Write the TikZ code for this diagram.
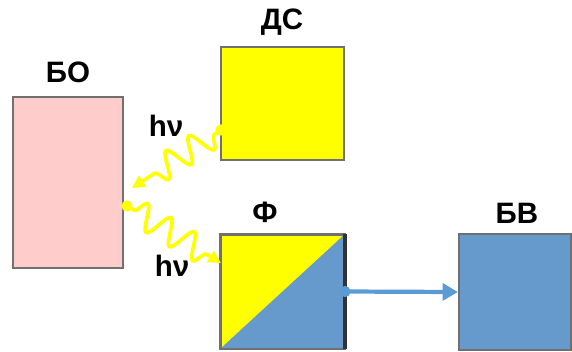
\documentclass[tikz,border=0pt]{standalone}
\usepackage{fontspec}
\setmainfont{Liberation Sans}
\usetikzlibrary{calc}
\usetikzlibrary{arrows.meta}
\usetikzlibrary{decorations.pathmorphing}
\definecolor{pink}{HTML}{FFCCCC}
\definecolor{yel}{HTML}{FFFF00}
\definecolor{blu}{HTML}{6699CC}
\definecolor{arr}{HTML}{5B9BD5}
\definecolor{edge}{HTML}{707070}

\begin{document}
\begin{tikzpicture}[x=0.025cm, y=-0.025cm,
		b/.style = {rectangle, draw=edge, line width=1.4pt, inner sep=0pt},
		l/.style = {font=\fontsize{21}{24}\selectfont\bfseries},
		w/.style = {draw=yel, line width=2.6pt, -{Triangle[length=9pt, width=9pt]},
			decorate, decoration={snake, amplitude=0.32cm, segment length=0.68cm, pre length=0.2cm, post length=0.35cm}},
		r/.style = {draw=arr, line width=3pt, -{Triangle[length=11pt, width=12pt]}}
		]
		\useasboundingbox (0, 0) rectangle (572, 351);
		
		%Nodes
		\node[b, fill=pink, minimum width=2.75cm, minimum height=4.275cm]	(bo)	at	(68, 182.5)	{};
		\node[b, fill=yel, minimum width=3.075cm, minimum height=2.825cm]	(ds)	at	(282.5, 103.5)	{};
		\node[b, fill=yel, minimum width=3.075cm, minimum height=2.825cm]	(f)	at	(282.5, 291.5)	{};
		\node[b, fill=blu, minimum width=2.8cm, minimum height=2.9cm]	(bv)	at	(515, 292)	{};
		
		\fill[blu]	(f.south west)	--	(f.north east)	--	(f.south east)	--	cycle;
		\draw[draw=edge, line width=1.4pt]	(f.north west)	rectangle	(f.south east);
		\draw[draw=black!80, line width=2.4pt]	(f.north east)	--	(f.south east);
		
		\node[l]	(lbo)	at	(68, 72)	{БО};
		\node[l]	(lds)	at	(282, 22)	{ДС};
		\node[l]	(lf)	at	(265, 212)	{Ф};
		\node[l]	(lbv)	at	(517, 213)	{БВ};
		\node[l]	(h1)	at	(166, 126)	{hν};
		\node[l]	(h2)	at	(172, 266)	{hν};
		
		\coordinate	(w1s)	at	(221, 130);
		\coordinate	(w1e)	at	(132, 188);
		\coordinate	(w2s)	at	(127, 206);
		\coordinate	(w2e)	at	(221, 263);
		
		%Lines
		\draw[w]	(w1s)	--	(w1e);
		\draw[w]	(w2s)	--	(w2e);
		\fill[yel]	(w1s)	circle	(4pt);
		\fill[yel]	(w2s)	circle	(4pt);
		
		\draw[r]	(f.east)	--	(bv.west);
		\fill[arr]	(f.east)	circle	(4pt);
	\end{tikzpicture}
\end{document}
